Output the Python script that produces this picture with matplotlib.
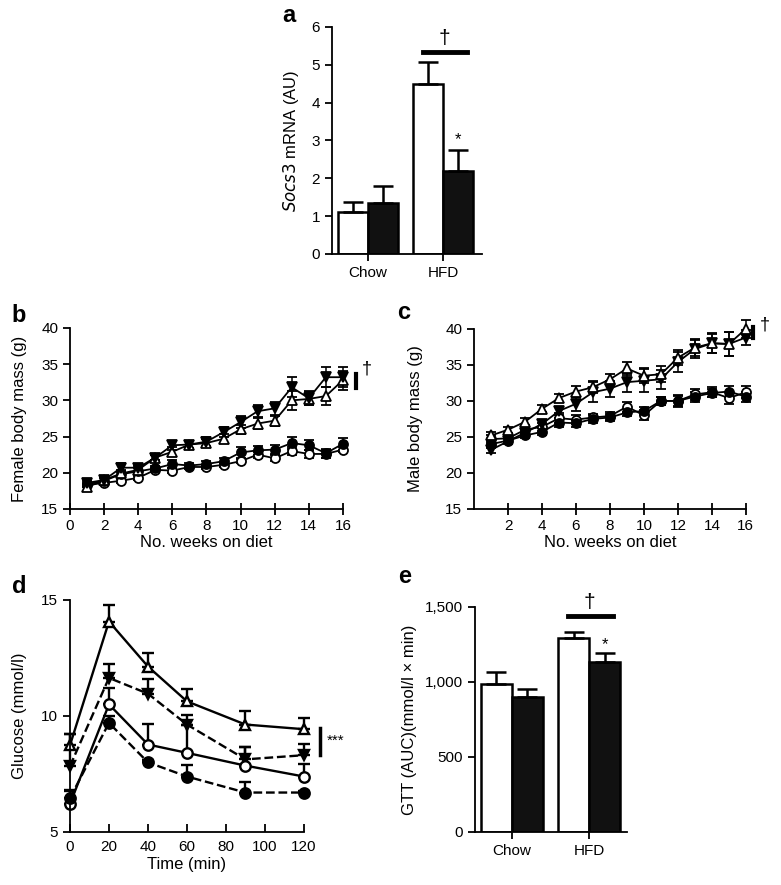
import numpy as np
import matplotlib
matplotlib.use('Agg')
import matplotlib.pyplot as plt

plt.rcParams['font.family'] = ['Liberation Sans', 'DejaVu Sans']

# ---- data ----
groups = ['Chow', 'HFD']

# a: Socs3 mRNA
socs3_white = [1.1, 4.5]
socs3_white_err = [0.27, 0.58]
socs3_black = [1.35, 2.2]
socs3_black_err = [0.45, 0.55]

# b: female body mass
weeks = np.arange(1, 17)
fem_tri = [18.0, 19.0, 19.9, 20.4, 22.1, 22.9, 23.9, 24.1, 24.7, 26.0, 26.8, 27.2, 30.0, 30.2, 30.6, 32.8]
fem_tri_err = [0.5, 0.5, 0.5, 0.5, 0.4, 0.6, 0.5, 0.6, 0.6, 0.6, 0.7, 0.7, 1.3, 0.9, 1.3, 1.3]
fem_inv = [18.6, 19.0, 20.7, 20.7, 22.1, 23.8, 23.9, 24.3, 25.6, 27.0, 28.5, 28.9, 31.8, 30.3, 33.2, 33.2]
fem_inv_err = [0.5, 0.4, 0.6, 0.5, 0.4, 0.6, 0.5, 0.6, 0.7, 0.8, 0.8, 0.9, 1.4, 1.0, 1.4, 1.4]
fem_fcirc = [18.4, 18.9, 19.8, 20.2, 20.6, 21.2, 21.0, 21.2, 21.6, 22.8, 23.1, 23.2, 24.1, 23.8, 22.7, 24.0]
fem_fcirc_err = [0.4, 0.4, 0.4, 0.4, 0.3, 0.5, 0.4, 0.4, 0.5, 0.7, 0.6, 0.6, 0.8, 0.7, 0.6, 0.8]
fem_ocirc = [18.3, 18.6, 18.9, 19.3, 20.4, 20.3, 20.8, 20.8, 21.1, 21.6, 22.5, 22.0, 23.0, 22.6, 22.6, 23.2]
fem_ocirc_err = [0.3, 0.3, 0.3, 0.3, 0.3, 0.3, 0.3, 0.3, 0.3, 0.3, 0.4, 0.4, 0.5, 0.5, 0.6, 0.4]

# c: male body mass
male_tri = [25.2, 26.0, 27.1, 28.9, 30.4, 31.3, 31.9, 33.0, 34.5, 33.5, 33.7, 36.0, 37.4, 38.0, 37.9, 40.0]
male_tri_err = [0.5, 0.4, 0.5, 0.5, 0.5, 0.7, 0.8, 0.8, 0.9, 1.0, 1.1, 1.0, 1.2, 1.4, 1.6, 1.2]
male_inv = [23.2, 24.4, 25.6, 26.8, 28.6, 29.6, 31.2, 31.7, 32.6, 32.8, 33.0, 35.4, 37.2, 38.0, 37.9, 38.8]
male_inv_err = [0.4, 0.4, 0.5, 0.6, 0.6, 1.0, 1.4, 1.1, 1.3, 1.6, 1.3, 1.4, 1.3, 1.3, 1.7, 1.0]
male_ocirc = [24.7, 24.8, 26.0, 26.4, 27.6, 27.4, 27.7, 27.9, 29.2, 28.0, 30.0, 30.0, 30.9, 31.2, 30.4, 31.2]
male_ocirc_err = [0.6, 0.5, 0.5, 0.6, 0.7, 0.6, 0.5, 0.6, 0.7, 0.7, 0.6, 0.8, 0.8, 0.7, 0.8, 0.8]
male_fcirc = [24.0, 24.5, 25.2, 25.7, 27.0, 26.9, 27.5, 27.7, 28.4, 28.6, 30.0, 30.0, 30.6, 31.1, 31.3, 30.6]
male_fcirc_err = [0.5, 0.4, 0.4, 0.5, 0.6, 0.5, 0.5, 0.5, 0.5, 0.6, 0.5, 0.7, 0.7, 0.6, 0.8, 0.7]

# d: glucose tolerance test
gtt_time = [0, 20, 40, 60, 90, 120]
gtt_tri = [8.74, 14.07, 12.13, 10.63, 9.63, 9.43]
gtt_tri_err = [0.5, 0.7, 0.6, 0.55, 0.6, 0.5]
gtt_inv = [7.84, 11.64, 10.96, 9.63, 8.13, 8.31]
gtt_inv_err = [1.4, 0.6, 0.65, 0.4, 0.55, 0.5]
gtt_ocirc = [6.21, 10.5, 8.77, 8.41, 7.86, 7.39]
gtt_ocirc_err = [0.6, 0.7, 0.9, 1.2, 0.8, 0.55]
gtt_fcirc = [6.46, 9.7, 8.0, 7.39, 6.7, 6.7]
gtt_fcirc_err = [0.3, 0.3, 0.1, 0.5, 0.45, 0.05]

# e: GTT AUC
auc_white = [985, 1295]
auc_white_err = [80, 40]
auc_black = [900, 1135]
auc_black_err = [55, 60]

fig = plt.figure(figsize=(7.81, 8.85), dpi=100)

TICK = 11
LAB = 12
LETTER = 17


def style_axes(ax):
    for s in ['top', 'right']:
        ax.spines[s].set_visible(False)
    for s in ['left', 'bottom']:
        ax.spines[s].set_linewidth(1.3)
    ax.tick_params(width=1.3, length=5, labelsize=TICK)


def bar_panel(ax, white, white_err, black, black_err):
    x = np.arange(len(groups))
    w = 0.4
    ax.bar(x - w / 2, white, w, color='white', edgecolor='black', linewidth=1.8,
           yerr=[np.zeros(2), white_err], error_kw=dict(ecolor='black', elinewidth=1.8, capsize=7, capthick=1.8))
    ax.bar(x + w / 2, black, w, color='#111111', edgecolor='black', linewidth=1.8,
           yerr=[np.zeros(2), black_err], error_kw=dict(ecolor='black', elinewidth=1.8, capsize=7, capthick=1.8))
    ax.set_xticks(x)
    ax.set_xticklabels(groups)
    ax.tick_params(axis='x', length=5)
    return x


# ---- a ----
ax = fig.add_axes([0.425, 0.713, 0.192, 0.2565])
style_axes(ax)
bar_panel(ax, socs3_white, socs3_white_err, socs3_black, socs3_black_err)
ax.set_xlim(-0.48, 1.52)
ax.set_ylim(0, 6)
ax.set_yticks(range(0, 7))
ax.set_ylabel(r'$\it{Socs3}$ mRNA (AU)', fontsize=LAB, labelpad=8)
ax.plot([0.73, 1.32], [5.33, 5.33], color='black', lw=3.5, clip_on=False)
ax.text(1.02, 5.45, '†', ha='center', va='bottom', fontsize=15)
ax.text(1.2, 2.82, '*', ha='center', va='bottom', fontsize=12)
fig.text(0.362, 0.982, 'a', fontsize=LETTER, fontweight='bold', ha='left', va='center')


def mass_lines(ax, x, series):
    for y, e, m, fc in series:
        ax.errorbar(x, y, yerr=e, color='black', lw=1.3, marker=m, markersize=6.5,
                    markerfacecolor=fc, markeredgecolor='black', markeredgewidth=1.3,
                    ecolor='black', elinewidth=1.1, capsize=3.5, capthick=1.1, clip_on=False)


# ---- b ----
ax = fig.add_axes([0.0896, 0.4249, 0.3495, 0.2045])
style_axes(ax)
mass_lines(ax, weeks, [
    (fem_ocirc, fem_ocirc_err, 'o', 'white'),
    (fem_fcirc, fem_fcirc_err, 'o', 'black'),
    (fem_tri, fem_tri_err, '^', 'white'),
    (fem_inv, fem_inv_err, 'v', 'black'),
])
ax.set_xlim(0, 16)
ax.set_ylim(15, 40)
ax.set_xticks(range(0, 17, 2))
ax.set_yticks(range(15, 41, 5))
ax.tick_params(axis='x', direction='inout', length=8)
ax.set_xlabel('No. weeks on diet', fontsize=LAB, labelpad=1)
ax.set_ylabel('Female body mass (g)', fontsize=LAB, labelpad=10)
ax.plot([16.75, 16.75], [31.7, 33.6], color='black', lw=3, clip_on=False)
ax.text(17.1, 34.3, '†', ha='left', va='center', fontsize=13)
fig.text(0.015, 0.644, 'b', fontsize=LETTER, fontweight='bold', ha='left', va='center')

# ---- c ----
ax = fig.add_axes([0.607, 0.4249, 0.348, 0.2035])
style_axes(ax)
mass_lines(ax, weeks, [
    (male_ocirc, male_ocirc_err, 'o', 'white'),
    (male_fcirc, male_fcirc_err, 'o', 'black'),
    (male_inv, male_inv_err, 'v', 'black'),
    (male_tri, male_tri_err, '^', 'white'),
])
ax.set_xlim(0, 16)
ax.set_ylim(15, 40)
ax.set_xticks(range(2, 17, 2))
ax.set_yticks(range(15, 41, 5))
ax.tick_params(axis='x', direction='inout', length=8)
ax.set_xlabel('No. weeks on diet', fontsize=LAB, labelpad=1)
ax.set_ylabel('Male body mass (g)', fontsize=LAB, labelpad=16)
ax.plot([16.45, 16.45], [38.7, 40.3], color='black', lw=3, clip_on=False)
ax.text(16.8, 40.6, '†', ha='left', va='center', fontsize=13)
fig.text(0.508, 0.647, 'c', fontsize=LETTER, fontweight='bold', ha='left', va='center')

# ---- d ----
ax = fig.add_axes([0.0896, 0.0599, 0.2996, 0.2622])
style_axes(ax)
for y, e, m, fc, ls in [
    (gtt_tri, gtt_tri_err, '^', 'white', '-'),
    (gtt_inv, gtt_inv_err, 'v', 'black', '--'),
    (gtt_ocirc, gtt_ocirc_err, 'o', 'white', '-'),
    (gtt_fcirc, gtt_fcirc_err, 'o', 'black', '--'),
]:
    ax.errorbar(gtt_time, y, yerr=[np.zeros(len(y)), e], color='black', lw=1.7, ls=ls,
                marker=m, markersize=7.5, markerfacecolor=fc, markeredgecolor='black',
                markeredgewidth=1.7, ecolor='black', elinewidth=1.7, capsize=4.5, capthick=2.2,
                clip_on=False)
ax.set_xlim(0, 120)
ax.set_ylim(5, 15)
ax.set_xticks(range(0, 121, 20))
ax.set_yticks([5, 10, 15])
ax.tick_params(axis='x', direction='in', length=6, labelsize=TICK, pad=6)
ax.set_xlabel('Time (min)', fontsize=LAB, labelpad=2)
ax.set_ylabel('Glucose (mmol/l)', fontsize=LAB, labelpad=10)
ax.plot([128, 128], [8.3, 9.5], color='black', lw=2.5, clip_on=False)
ax.text(131.5, 8.95, '***', ha='left', va='center', fontsize=11)
fig.text(0.015, 0.337, 'd', fontsize=LETTER, fontweight='bold', ha='left', va='center')

# ---- e ----
ax = fig.add_axes([0.608, 0.0599, 0.195, 0.2543])
style_axes(ax)
bar_panel(ax, auc_white, auc_white_err, auc_black, auc_black_err)
ax.set_xlim(-0.48, 1.49)
ax.set_ylim(0, 1500)
ax.set_yticks([0, 500, 1000, 1500])
ax.set_yticklabels(['0', '500', '1,000', '1,500'])
ax.set_ylabel('GTT (AUC)(mmol/l × min)', fontsize=LAB, labelpad=6)
ax.plot([0.72, 1.31], [1440, 1440], color='black', lw=3.5, clip_on=False)
ax.text(1.0, 1465, '†', ha='center', va='bottom', fontsize=15)
ax.text(1.2, 1198, '*', ha='center', va='bottom', fontsize=12)
fig.text(0.51, 0.349, 'e', fontsize=LETTER, fontweight='bold', ha='left', va='center')

fig.savefig('out.png', dpi=100)
